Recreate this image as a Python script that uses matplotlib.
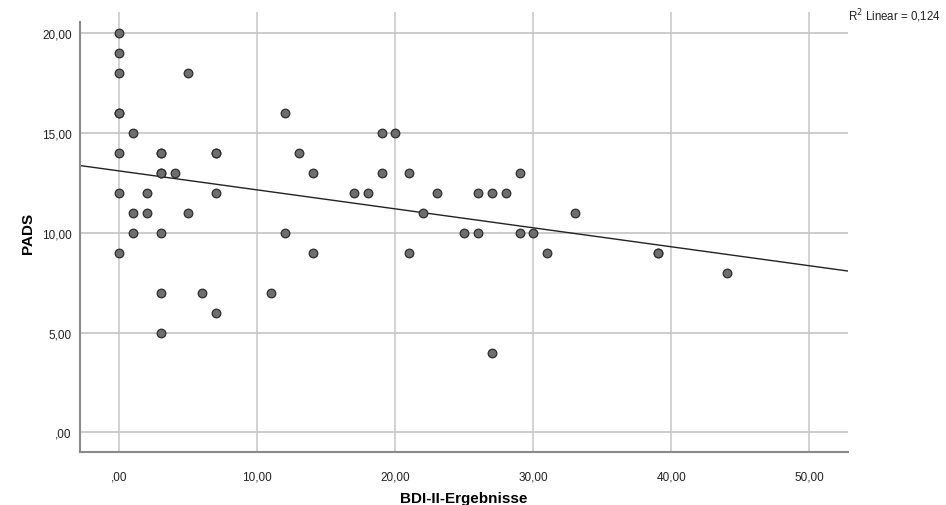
import numpy as np
import matplotlib.pyplot as plt

plt.rcParams['font.family'] = ['Liberation Sans', 'DejaVu Sans']

# BDI-II-Werte und PADS-Werte je Person (Doppelte Werte liegen übereinander)
bdi = [0, 0, 0, 0, 0, 0, 0, 0,
       1, 1, 1,
       2, 2,
       3, 3, 3, 3, 3, 3, 3,
       4,
       5, 5,
       6,
       7, 7, 7, 7,
       11,
       12, 12,
       13,
       14, 14,
       17, 18,
       19, 19,
       20,
       21, 21,
       22, 23, 25,
       26, 26,
       27, 27,
       28,
       29, 29,
       30, 31, 33, 39, 39, 44]
pads = [20, 19, 18, 16, 16, 14, 12, 9,
        15, 11, 10,
        12, 11,
        14, 14, 13, 13, 10, 7, 5,
        13,
        18, 11,
        7,
        14, 14, 12, 6,
        7,
        16, 10,
        14,
        13, 9,
        12, 12,
        15, 13,
        15,
        13, 9,
        11, 12, 10,
        12, 10,
        12, 4,
        12,
        13, 10,
        10, 9, 11, 9, 9, 8]

r2_wert = 0.124
x_ticks = [0, 10, 20, 30, 40, 50]
y_ticks = [0, 5, 10, 15, 20]

def komma(v):
    s = f'{v:.2f}'.replace('.', ',')
    return s[1:] if s.startswith('0') else s

bdi = np.array(bdi, dtype=float)
pads = np.array(pads, dtype=float)

# Lineare Regression
m, b = np.polyfit(bdi, pads, 1)

fig = plt.figure(figsize=(9.46, 5.06), dpi=100)
ax = fig.add_axes([80 / 946, 1 - 453.3 / 506, 767.7 / 946, 440 / 506])

xmin, xmax = -2.85, 52.78
ax.set_xlim(xmin, xmax)
ax.set_ylim(-1.0, 21.05)

for v in x_ticks:
    ax.axvline(v, color='#d2d2d2', lw=1.4, zorder=0)
for v in y_ticks:
    ax.axhline(v, color='#c4c4c4', lw=1.2, zorder=0)

xs = np.array([xmin, xmax])
ax.plot(xs, m * xs + b, color='#222222', lw=1.0, zorder=2)

ax.plot(bdi, pads, 'o', ms=6.2, mfc='#6e6e6e', mec='#2e2e2e', mew=0.9, zorder=3)

ax.set_xticks(x_ticks)
ax.set_xticklabels([komma(v) for v in x_ticks])
ax.set_yticks(y_ticks)
ax.set_yticklabels([komma(v) for v in y_ticks])
ax.tick_params(axis='x', length=0, pad=13, labelsize=8.5, colors='#222222')
ax.tick_params(axis='y', length=0, pad=6, labelsize=8.5, colors='#222222')

for s in ['top', 'right']:
    ax.spines[s].set_visible(False)
for s in ['left', 'bottom']:
    ax.spines[s].set_color('#8a8a8a')
    ax.spines[s].set_linewidth(1.5)
ax.spines['left'].set_bounds(-1.0, 20.55)

ax.set_xlabel('BDI-II-Ergebnisse', fontsize=11, fontweight='bold', labelpad=6)
ax.set_ylabel('PADS', fontsize=11, fontweight='bold', labelpad=5)

fig.text(848 / 946, 1 - 16 / 506, 'R$^2$ Linear = ' + f'{r2_wert:.3f}'.replace('.', ','),
         fontsize=8.3, va='center', ha='left', color='#222222')

fig.savefig('out.png', dpi=100)
